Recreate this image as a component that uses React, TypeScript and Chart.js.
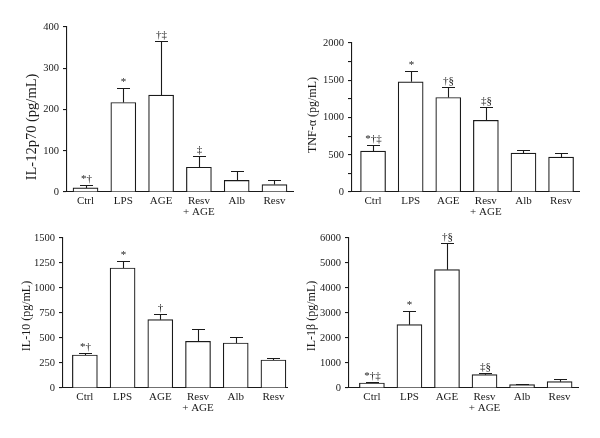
import React, { useEffect, useRef } from 'react';
import { Chart, registerables } from 'chart.js';

Chart.register(...registerables);

// ---------- data ----------
const xLabels: (string | string[])[] = ['Ctrl', 'LPS', 'AGE', ['Resv', '+ AGE'], 'Alb', 'Resv'];

const il12Means = [10, 217, 235, 60, 28, 18];
const il12Errors = [8, 36, 132, 27, 24, 12];
const il12Marks = ['*†', '*', '†‡', '‡', '', ''];

const tnfMeans = [548, 1479, 1269, 962, 521, 468];
const tnfErrors = [89, 142, 147, 174, 40, 53];
const tnfMarks = ['*†‡', '*', '†§', '‡§', '', ''];

const il10Means = [330, 1200, 683, 467, 450, 280];
const il10Errors = [20, 67, 57, 123, 63, 23];
const il10Marks = ['*†', '*', '†', '', '', ''];

const il1bMeans = [200, 2533, 4733, 533, 133, 253];
const il1bErrors = [40, 560, 1080, 54, 27, 94];
const il1bMarks = ['*†‡', '*', '†§', '‡§', '', ''];

// ---------- style / layout ----------
const FONT = "'Liberation Serif', 'Times New Roman', serif";
const INK = '#1a1a1a';
const W = 300;
const H = 219;

type PanelCfg = {
  title: string;
  means: number[];
  errors: number[];
  marks: string[];
  yMax: number;
  step: number;
  labelEvery: number;
  left: number; // canvas position
  top: number;
  axisX: number;
  areaRight: number;
  areaTop: number;
  areaBottom: number;
  xMin: number;
  xMax: number;
  titleX: number;
  titleY: number;
  titleSize: number;
};

const panels: PanelCfg[] = [
  {
    title: 'IL-12p70 (pg/mL)', means: il12Means, errors: il12Errors, marks: il12Marks,
    yMax: 400, step: 100, labelEvery: 100,
    left: 0, top: 0, axisX: 67, areaRight: 293, areaTop: 27, areaBottom: 192,
    xMin: -0.49, xMax: 5.49, titleX: 32, titleY: 127, titleSize: 14.5,
  },
  {
    title: 'TNF-α (pg/mL)', means: tnfMeans, errors: tnfErrors, marks: tnfMarks,
    yMax: 2000, step: 250, labelEvery: 500,
    left: 300, top: 0, axisX: 52, areaRight: 279.5, areaTop: 43, areaBottom: 192,
    xMin: -0.56, xMax: 5.49, titleX: 13, titleY: 115, titleSize: 12,
  },
  {
    title: 'IL-10 (pg/mL)', means: il10Means, errors: il10Errors, marks: il10Marks,
    yMax: 1500, step: 250, labelEvery: 250,
    left: 0, top: 219, axisX: 63, areaRight: 287, areaTop: 19, areaBottom: 169,
    xMin: -0.58, xMax: 5.36, titleX: 27, titleY: 97, titleSize: 12,
  },
  {
    title: 'IL-1β (pg/mL)', means: il1bMeans, errors: il1bErrors, marks: il1bMarks,
    yMax: 6000, step: 1000, labelEvery: 1000,
    left: 300, top: 219, axisX: 49, areaRight: 278, areaTop: 19, areaBottom: 169,
    xMin: -0.61, xMax: 5.49, titleX: 12, titleY: 97, titleSize: 12,
  },
];

// ---------- plugins ----------
const errorBarPlugin = {
  id: 'errorBars',
  afterDatasetsDraw(chart: any, _args: any, opts: any) {
    const { ctx, scales } = chart;
    const meta = chart.getDatasetMeta(0);
    const means: number[] = opts.means;
    const errors: number[] = opts.errors;
    const marks: string[] = opts.marks;
    ctx.save();
    ctx.strokeStyle = INK;
    ctx.lineWidth = 1.1;
    ctx.fillStyle = INK;
    ctx.font = `11px ${FONT}`;
    ctx.textAlign = 'center';
    ctx.textBaseline = 'bottom';
    meta.data.forEach((bar: any, i: number) => {
      const x = Math.round(bar.x) + 0.5;
      const yBase = scales.y.getPixelForValue(means[i]);
      const yTop = Math.round(scales.y.getPixelForValue(means[i] + errors[i])) + 0.5;
      ctx.beginPath();
      ctx.moveTo(x, yBase);
      ctx.lineTo(x, yTop);
      ctx.moveTo(x - 6.5, yTop);
      ctx.lineTo(x + 6.5, yTop);
      ctx.stroke();
      if (marks[i]) ctx.fillText(marks[i], x, yTop - 1);
    });
    ctx.restore();
  },
};

const yTitlePlugin = {
  id: 'yTitle',
  afterDraw(chart: any, _args: any, opts: any) {
    const { ctx } = chart;
    ctx.save();
    ctx.translate(opts.x, opts.y);
    ctx.rotate(-Math.PI / 2);
    ctx.fillStyle = INK;
    ctx.font = `${opts.size}px ${FONT}`;
    ctx.textAlign = 'center';
    ctx.textBaseline = 'middle';
    ctx.fillText(opts.text, 0, 0);
    ctx.restore();
  },
};

function Panel({ cfg }: { cfg: PanelCfg }) {
  const ref = useRef<HTMLCanvasElement | null>(null);
  useEffect(() => {
    if (!ref.current) return;
    const chart = new Chart(ref.current, {
      type: 'bar',
      data: {
        datasets: [
          {
            data: cfg.means.map((m, i) => ({ x: i, y: m })),
            backgroundColor: '#ffffff',
            borderColor: INK,
            borderWidth: 1.2,
            barThickness: 25,
          } as any,
        ],
      },
      options: {
        animation: false,
        responsive: false,
        events: [],
        layout: {
          padding: { left: 0, top: cfg.areaTop, right: W - cfg.areaRight, bottom: 0 },
        },
        plugins: {
          legend: { display: false },
          tooltip: { enabled: false },
          errorBars: { means: cfg.means, errors: cfg.errors, marks: cfg.marks },
          yTitle: { text: cfg.title, x: cfg.titleX, y: cfg.titleY, size: cfg.titleSize },
        } as any,
        scales: {
          x: {
            type: 'linear',
            min: cfg.xMin,
            max: cfg.xMax,
            offset: false,
            afterFit: (s: any) => { s.height = H - cfg.areaBottom; },
            afterBuildTicks: (s: any) => { s.ticks = xLabels.map((_, i) => ({ value: i })); },
            ticks: {
              callback: (v: any) => xLabels[Math.round(Number(v))] as any,
              font: { family: FONT, size: 11, lineHeight: 1.0 },
              color: INK,
              padding: 4,
              autoSkip: false,
              maxRotation: 0,
            },
            grid: { display: false, drawTicks: false },
            border: { display: true, color: INK, width: 1.1 },
          } as any,
          y: {
            min: 0,
            max: cfg.yMax,
            afterFit: (s: any) => { s.width = cfg.axisX; },
            ticks: {
              stepSize: cfg.step,
              autoSkip: false,
              font: { family: FONT, size: 10.5 },
              color: INK,
              padding: 4,
              callback: (v: any) => (Number(v) % cfg.labelEvery === 0 ? String(v) : ''),
            },
            grid: { drawOnChartArea: false, drawTicks: true, tickLength: 4, color: INK, lineWidth: 1.1 },
            border: { display: true, color: INK, width: 1.1 },
          } as any,
        },
      },
      plugins: [errorBarPlugin, yTitlePlugin],
    });
    return () => chart.destroy();
  }, [cfg]);
  return (
    <canvas
      ref={ref}
      width={W}
      height={H}
      style={{ position: 'absolute', left: cfg.left, top: cfg.top, width: W, height: H, display: 'block' }}
    />
  );
}

export default function App() {
  return (
    <div style={{ position: 'absolute', left: 0, top: 0, width: 600, height: 438, background: '#fff' }}>
      {panels.map((p) => (
        <Panel key={p.title} cfg={p} />
      ))}
    </div>
  );
}
